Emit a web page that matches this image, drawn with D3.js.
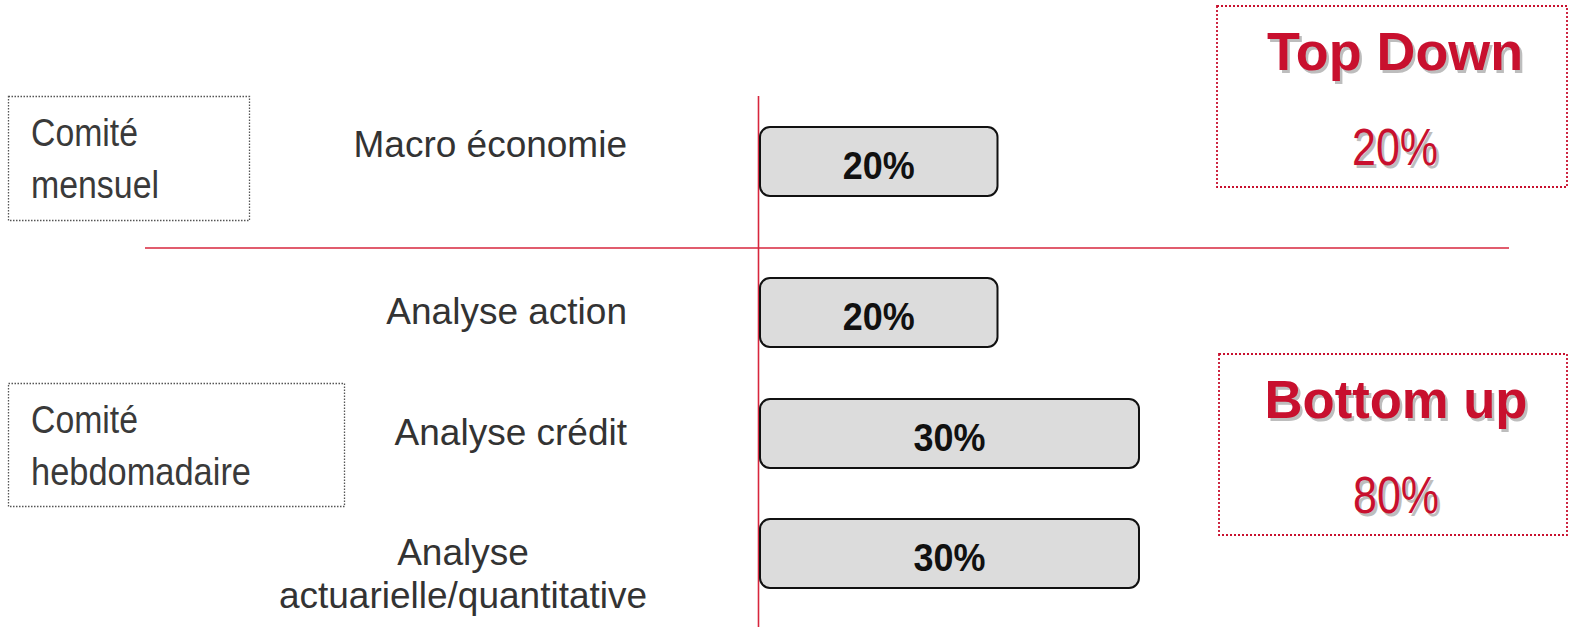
<!DOCTYPE html>
<html>
<head>
<meta charset="utf-8">
<style>
body { margin: 0; background: #ffffff; }
svg { display: block; }
</style>
</head>
<body>
<script src="https://d3js.org/d3.v7.min.js"></script>
<div id="chart"></div>
<script>
// data
var categories = ["Macro économie", "Analyse action", "Analyse crédit", "Analyse actuarielle/quantitative"];
var labelLines = [["Macro économie"], ["Analyse action"], ["Analyse crédit"], ["Analyse", "actuarielle/quantitative"]];
var shares = [20, 20, 30, 30];
var groups = ["Top Down", "Bottom up", "Bottom up", "Bottom up"];
var groupNames = ["Top Down", "Bottom up"];
var groupShares = [20, 80];
var committees = [["Comité", "mensuel"], ["Comité", "hebdomadaire"]];

var red = "#c8102e";
var width = 1571, height = 627;

var svg = d3.select("#chart").append("svg")
  .attr("width", width)
  .attr("height", height);

// scales
var x0 = 760;
var x = d3.scaleLinear().domain([10, 30]).range([96, 379]);
var y = d3.scaleOrdinal().domain(categories).range([127, 278, 399, 519]);
var barH = 69;

// red axis lines
svg.append("line")
  .attr("x1", 145).attr("x2", 1509)
  .attr("y1", 248).attr("y2", 248)
  .attr("stroke", "#d7263d").attr("stroke-width", 1.6);
svg.append("line")
  .attr("x1", 758.5).attr("x2", 758.5)
  .attr("y1", 96).attr("y2", height)
  .attr("stroke", "#d7263d").attr("stroke-width", 1.6);

// bars
var rows = categories.map(function(c, i) {
  return {cat: c, lines: labelLines[i], value: shares[i], group: groups[i]};
});

svg.selectAll("rect.bar")
  .data(rows)
  .enter().append("rect")
  .attr("class", "bar")
  .attr("x", x0)
  .attr("y", function(d) { return y(d.cat); })
  .attr("width", function(d) { return x(d.value); })
  .attr("height", barH)
  .attr("rx", 10).attr("ry", 10)
  .attr("fill", "#dcdcdc")
  .attr("stroke", "#111")
  .attr("stroke-width", 2);

svg.selectAll("text.val")
  .data(rows)
  .enter().append("text")
  .attr("class", "val")
  .attr("x", function(d) { return x0 + x(d.value) / 2; })
  .attr("y", function(d) { return y(d.cat) + barH / 2 + 17; })
  .attr("text-anchor", "middle")
  .attr("font-family", "'Liberation Sans Narrow', 'Liberation Sans', Arial, sans-serif")
  .attr("font-weight", "bold")
  .attr("font-size", 38)
  .attr("textLength", 72)
  .attr("lengthAdjust", "spacingAndGlyphs")
  .attr("fill", "#111")
  .text(function(d) { return d.value + "%"; });

// category labels
rows.forEach(function(d) {
  var top = y(d.cat);
  if (d.lines.length == 1) {
    svg.append("text")
      .attr("x", 627)
      .attr("y", top + (d.group == "Top Down" ? 30 : 46))
      .attr("text-anchor", "end")
      .attr("font-family", "'Liberation Sans', Arial, sans-serif")
      .attr("font-size", 37)
      .attr("fill", "#333")
      .text(d.lines[0]);
  } else {
    d.lines.forEach(function(l, j) {
      svg.append("text")
        .attr("x", 463)
        .attr("y", top + 46 + j * 43)
        .attr("text-anchor", "middle")
        .attr("font-family", "'Liberation Sans', Arial, sans-serif")
        .attr("font-size", 37)
        .attr("fill", "#333")
        .text(l);
    });
  }
});

// committee boxes
var commBoxes = [
  {x: 8.5, y: 96.5, w: 241, h: 124},
  {x: 8.5, y: 383.5, w: 336, h: 123}
];
var commWidths = [[107, 128], [107, 220]];
committees.forEach(function(lines, i) {
  var b = commBoxes[i];
  svg.append("rect")
    .attr("x", b.x).attr("y", b.y)
    .attr("width", b.w).attr("height", b.h)
    .attr("fill", "none")
    .attr("stroke", "#555")
    .attr("stroke-width", 1.3)
    .attr("stroke-dasharray", "1.5 1.5");
  lines.forEach(function(l, j) {
    svg.append("text")
      .attr("x", 31)
      .attr("y", b.y + 49 + j * 52)
      .attr("font-family", "'Liberation Sans Narrow', 'Liberation Sans', Arial, sans-serif")
      .attr("font-size", 39)
      .attr("textLength", commWidths[i][j])
      .attr("lengthAdjust", "spacingAndGlyphs")
      .attr("fill", "#3a3a3a")
      .text(l);
  });
});

// group boxes (right)
var groupBoxes = [
  {x: 1217, y: 6, w: 350, h: 181},
  {x: 1219, y: 354, w: 348, h: 181}
];
var titleWidths = [256, 263];
groupNames.forEach(function(g, i) {
  var b = groupBoxes[i];
  var cx = b.x + b.w / 2 + 3;
  svg.append("rect")
    .attr("x", b.x).attr("y", b.y)
    .attr("width", b.w).attr("height", b.h)
    .attr("fill", "none")
    .attr("stroke", red)
    .attr("stroke-width", 1.8)
    .attr("stroke-dasharray", "2 2");

  [["#bdbdbd", 2.5], [red, 0]].forEach(function(s) {
    svg.append("text")
      .attr("x", cx + s[1]).attr("y", b.y + 64 + s[1])
      .attr("text-anchor", "middle")
      .attr("font-family", "'Liberation Sans', Arial, sans-serif")
      .attr("font-weight", "bold")
      .attr("font-size", 53)
      .attr("textLength", titleWidths[i])
      .attr("lengthAdjust", "spacingAndGlyphs")
      .attr("fill", s[0])
      .text(g);
    svg.append("text")
      .attr("x", cx + s[1]).attr("y", b.y + 159 + s[1])
      .attr("text-anchor", "middle")
      .attr("font-family", "'Liberation Sans Narrow', 'Liberation Sans', Arial, sans-serif")
      .attr("font-size", 52)
      .attr("textLength", 86)
      .attr("lengthAdjust", "spacingAndGlyphs")
      .attr("fill", s[0])
      .text(groupShares[i] + "%");
  });
});
</script>
</body>
</html>
